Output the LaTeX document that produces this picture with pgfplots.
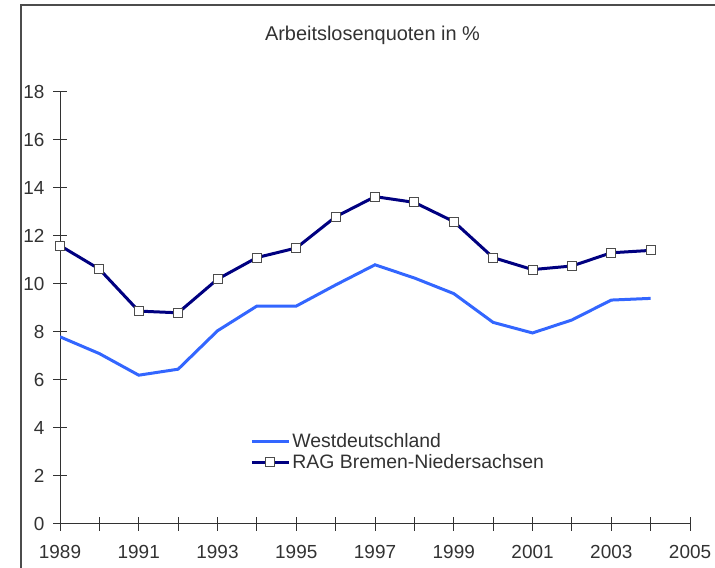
\documentclass[border=0pt]{standalone}
\usepackage{pgfplots}
\pgfplotsset{compat=1.18}
\usepackage{fontspec}
\setmainfont{Liberation Sans}
\definecolor{westblue}{RGB}{51,102,255}
\definecolor{ragnavy}{RGB}{0,0,128}
\definecolor{axgray}{RGB}{50,50,50}
\begin{document}
\begin{tikzpicture}[x=1bp,y=1bp]
\path[use as bounding box] (0,0) rectangle (715,568);
\draw[black!70, line width=1.2bp] (21,0) -- (21,563) -- (715,563);
\node[font=\fontsize{20}{24}\selectfont, text=axgray] at (372.5,533) {Arbeitslosenquoten in \%};
\begin{axis}[
  at={(60bp,44bp)}, anchor=south west,
  scale only axis, width=630bp, height=432bp,
  xmin=1989, xmax=2005, ymin=0, ymax=18,
  axis x line*=bottom, axis y line*=left,
  axis line style={axgray, line width=1bp, -},
  xtick={1989,1991,...,2005}, minor xtick={1990,1992,...,2004},
  ytick={0,2,...,18},
  tick align=center, major tick length=14bp, minor tick length=14bp,
  every tick/.style={axgray, line width=1bp},
  every minor tick/.style={axgray, line width=1bp},
  /pgf/number format/assume math mode=true,
  /pgf/number format/1000 sep={},
  tick label style={font=\fontsize{19}{22}\selectfont, text=axgray},
  xticklabel style={yshift=-11bp},
  yticklabel style={xshift=-5bp},
  legend style={at={(axis cs:1993.83,3.85)}, anchor=north west, draw=none, fill=none,
    font=\fontsize{19.5}{22}\selectfont, text=axgray, row sep=1bp, inner sep=0pt},
  legend cell align=left,
  legend image code/.code={\draw[mark repeat=2, mark phase=2, #1] plot coordinates {(0bp,0bp) (18.5bp,0bp) (37bp,0bp)};},
]
\addplot[westblue, line width=3bp, mark=none] coordinates {
(1989,7.8) (1990,7.1) (1991,6.2) (1992,6.45) (1993,8.05) (1994,9.08) (1995,9.08)
(1996,9.96) (1997,10.8) (1998,10.25) (1999,9.6) (2000,8.4) (2001,7.96) (2002,8.5)
(2003,9.33) (2004,9.4)};
\addlegendentry{Westdeutschland}
\addplot[ragnavy, line width=3bp, mark=square*, mark size=4.5bp,
  mark options={fill=white, draw=black!70, line width=1bp, solid}] coordinates {
(1989,11.6) (1990,10.62) (1991,8.87) (1992,8.8) (1993,10.2) (1994,11.1) (1995,11.5)
(1996,12.8) (1997,13.64) (1998,13.4) (1999,12.6) (2000,11.1) (2001,10.6) (2002,10.75)
(2003,11.3) (2004,11.4)};
\addlegendentry{RAG Bremen-Niedersachsen}
\end{axis}
\end{tikzpicture}
\end{document}
